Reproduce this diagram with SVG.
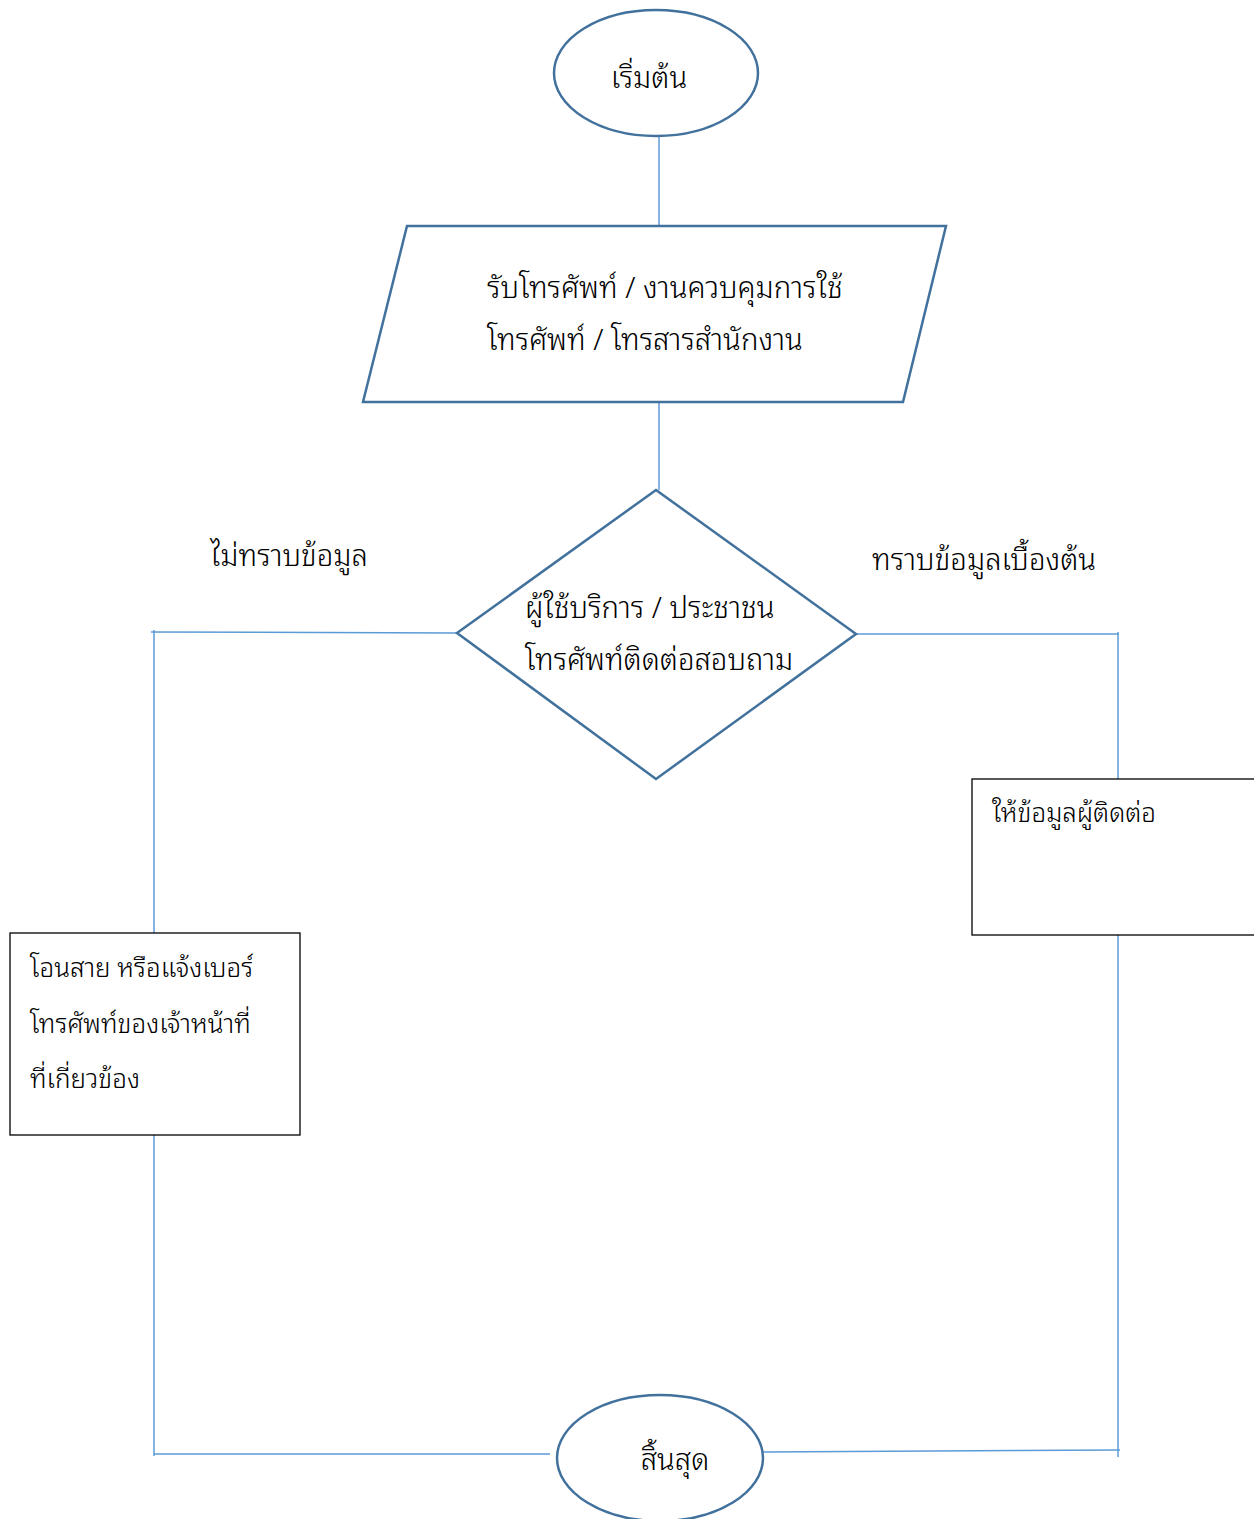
<svg xmlns="http://www.w3.org/2000/svg" width="1254" height="1519" viewBox="0 0 1254 1519">
<style>
.shape{fill:#fff;stroke:#41719c;stroke-width:2.5}
.box{fill:#fff;stroke:#000;stroke-width:1.3}
.conn{fill:none;stroke:#5b9bd5;stroke-width:1.5}
text{font-family:"Noto Sans Thai Looped","Noto Serif Thai","Noto Sans Thai","Noto Sans",sans-serif;font-weight:300;fill:#000}
.t28{font-size:29.3px}
.t24{font-size:26px}
</style>
<rect width="1254" height="1519" fill="#fff"/>
<g id="connectors">
<line class="conn" x1="659" y1="137" x2="659" y2="226"/>
<line class="conn" x1="659" y1="402" x2="659" y2="490"/>
<line class="conn" x1="457" y1="633" x2="151" y2="632"/>
<line class="conn" x1="154" y1="630" x2="154" y2="933"/>
<line class="conn" x1="154" y1="1135" x2="154" y2="1456"/>
<line class="conn" x1="154" y1="1454" x2="550" y2="1454"/>
<line class="conn" x1="856" y1="634" x2="1119" y2="634"/>
<line class="conn" x1="1118" y1="632" x2="1118" y2="779"/>
<line class="conn" x1="1118" y1="935" x2="1118" y2="1457"/>
<line class="conn" x1="763" y1="1452" x2="1120" y2="1450"/>
</g>
<g id="start">
<ellipse class="shape" cx="656" cy="73" rx="102" ry="63"/>
<text class="t28" x="649" y="88" text-anchor="middle">เริ่มต้น</text>
</g>
<g id="input">
<polygon class="shape" points="407,226 946,226 903,402 363,402"/>
<text class="t28" x="487" y="298">รับโทรศัพท์ / งานควบคุมการใช้</text>
<text class="t28" x="487" y="350">โทรศัพท์ / โทรสารสำนักงาน</text>
</g>
<g id="decision">
<polygon class="shape" points="656,490 856,634 656,779 457,633"/>
<text class="t28" x="525" y="618">ผู้ใช้บริการ / ประชาชน</text>
<text class="t28" x="525" y="670">โทรศัพท์ติดต่อสอบถาม</text>
</g>
<g id="label-no">
<text class="t28" x="210" y="566">ไม่ทราบข้อมูล</text>
</g>
<g id="label-yes">
<text class="t28" x="872" y="570">ทราบข้อมูลเบื้องต้น</text>
</g>
<g id="transfer">
<rect class="box" x="10" y="933" width="290" height="202"/>
<text class="t24" x="30" y="977">โอนสาย หรือแจ้งเบอร์</text>
<text class="t24" x="30" y="1033">โทรศัพท์ของเจ้าหน้าที่</text>
<text class="t24" x="30" y="1088">ที่เกี่ยวข้อง</text>
</g>
<g id="inform">
<rect class="box" x="972" y="779" width="290" height="156"/>
<text class="t24" x="992" y="822">ให้ข้อมูลผู้ติดต่อ</text>
</g>
<g id="end">
<ellipse class="shape" cx="660" cy="1458" rx="103" ry="63"/>
<text class="t28" x="675" y="1470" text-anchor="middle">สิ้นสุด</text>
</g>
</svg>
